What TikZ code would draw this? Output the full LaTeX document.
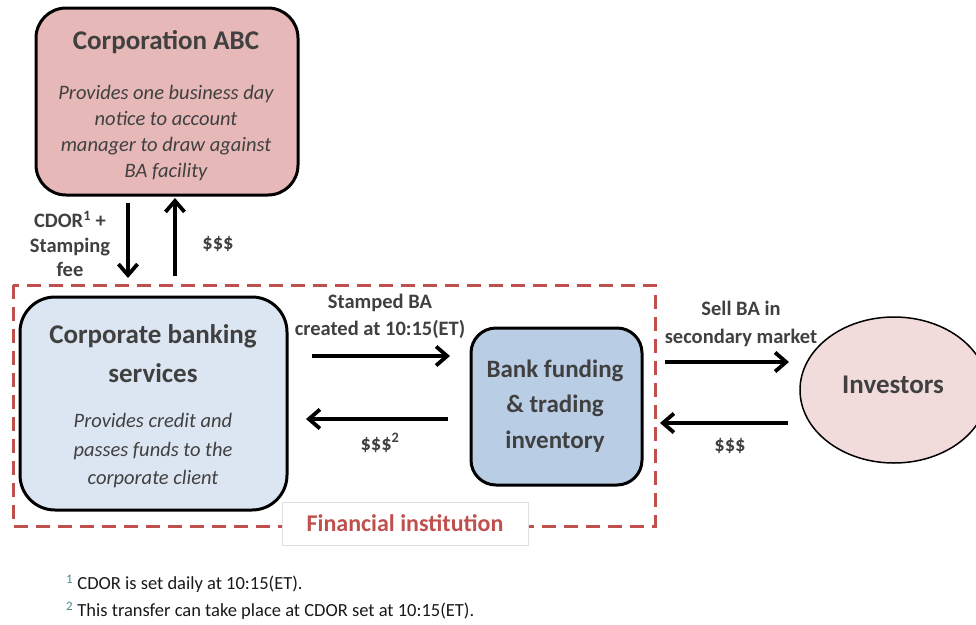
\documentclass[tikz,border=0pt]{standalone}
\usepackage{fontspec}
\setmainfont{Carlito}
\usetikzlibrary{arrows.meta,shapes.geometric}
\definecolor{pinkfill}{HTML}{E6B8B7}
\definecolor{bluelight}{HTML}{DCE6F2}
\definecolor{bluemid}{HTML}{B9CDE5}
\definecolor{invfill}{HTML}{F2DCDB}
\definecolor{redline}{HTML}{C0504D}
\definecolor{txtgray}{HTML}{404040}
\definecolor{supcol}{HTML}{4F8A8B}
\tikzset{
  rbox/.style={draw=black, line width=3pt},
  flow/.style={line width=3.8pt, -{Straight Barb[length=11pt,width=19pt,line width=3.8pt]}},
  lbl/.style={text=txtgray, font=\fontsize{20.5}{27}\selectfont\bfseries, align=center, inner sep=0pt},
  head/.style={font=\fontsize{27}{39}\selectfont\bfseries, text=txtgray, align=center, inner sep=0pt},
  desc/.style={font=\fontsize{20.5}{25.7}\selectfont\itshape, text=txtgray, align=center, inner sep=0pt},
  foot/.style={anchor=west, inner sep=0pt, font=\fontsize{18.5}{22}\selectfont, text=black!90},
}
\begin{document}
\begin{tikzpicture}[x=1pt,y=-1pt]
\useasboundingbox (0,0) rectangle (976,624);
\begin{scope}
\clip (0,0) rectangle (976,624);
% Corporation ABC
\draw[rbox, fill=pinkfill, rounded corners=30pt] (36,8) rectangle (298,195);
\node[head] (abc) at (166,42) {Corporation ABC};
\node[desc] (abcd) at (166,133) {Provides one business day\\notice to account\\manager to draw against\\BA facility};
% Financial institution dashed box
\draw[redline, line width=3pt, dash pattern=on 14pt off 8pt] (13,285) rectangle (655,526);
% Corporate banking services
\draw[rbox, fill=bluelight, rounded corners=35pt] (20,297) rectangle (287,510);
\node[head] (cbs) at (153,354) {Corporate banking\\services};
\node[desc, font=\fontsize{20.5}{28.5}\selectfont\itshape] (cbsd) at (153,451) {Provides credit and\\passes funds to the\\corporate client};
% Bank funding
\draw[rbox, fill=bluemid, rounded corners=25pt] (471,328) rectangle (642,485);
\node[head, font=\fontsize{25}{35.5}\selectfont\bfseries] (bank) at (555,406) {Bank funding\\\& trading\\inventory};
% Investors
\node[draw=black, line width=1.5pt, fill=invfill, ellipse, minimum width=188pt, minimum height=146pt, inner sep=0pt] (inv) at (894,390) {};
\node[head] (invt) at (893,385) {Investors};
% Financial institution label
\node[draw=black!12, line width=1pt, fill=white, minimum width=246pt, minimum height=43pt, inner sep=0pt,
      text=redline, font=\fontsize{24}{28}\selectfont\bfseries] (fi) at (405,523.5) {Financial institution};
% arrows
\coordinate (d1) at (128,203); \coordinate (d2) at (128,278);
\coordinate (u1) at (175,276); \coordinate (u2) at (175,198);
\draw[flow] (d1) -- (d2);
\draw[flow] (u1) -- (u2);
\node[lbl, font=\fontsize{20.5}{24.5}\selectfont\bfseries] (l1) at (70,244) {CDOR\textsuperscript{1} +\\Stamping\\fee};
\node[lbl] (l2) at (218,244) {\$\$\$};
\coordinate (a1) at (312,356); \coordinate (a2) at (450,356);
\coordinate (b1) at (448,419); \coordinate (b2) at (306,419);
\draw[flow] (a1) -- (a2);
\draw[flow] (b1) -- (b2);
\node[lbl] (l3) at (380,316) {Stamped BA\\created at 10:15(ET)};
\node[lbl] (l4) at (380,443) {\$\$\$\textsuperscript{2}};
\coordinate (c1) at (665,362); \coordinate (c2) at (789,362);
\coordinate (e1) at (788,423); \coordinate (e2) at (660,423);
\draw[flow] (c1) -- (c2);
\draw[flow] (e1) -- (e2);
\node[lbl, font=\fontsize{20.5}{28}\selectfont\bfseries] (l5) at (741,324) {Sell BA in\\secondary market};
\node[lbl] (l6) at (730,446) {\$\$\$};
% footnotes
\node[foot] (f1) at (66,584) {\textcolor{supcol}{\textsuperscript{1}} CDOR is set daily at 10:15(ET).};
\node[foot] (f2) at (66,611) {\textcolor{supcol}{\textsuperscript{2}} This transfer can take place at CDOR set at 10:15(ET).};
\end{scope}
\end{tikzpicture}
\end{document}
